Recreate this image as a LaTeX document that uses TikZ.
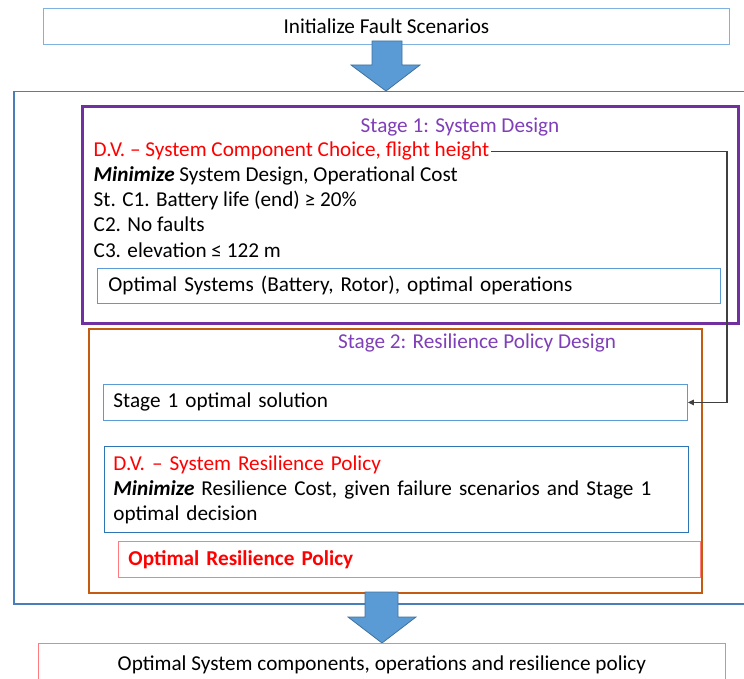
\documentclass[tikz,border=0pt]{standalone}
\usepackage{fontspec}
\setmainfont{Carlito}
\usetikzlibrary{arrows.meta}
\definecolor{paleblue}{HTML}{7FB2E0}
\definecolor{frameblue}{HTML}{4A7EBB}
\definecolor{boxblue}{HTML}{5B9BD5}
\definecolor{deepblue}{HTML}{2E75B6}
\definecolor{stagepurple}{HTML}{7030A0}
\definecolor{titlepurple}{HTML}{7F3FB8}
\definecolor{stageorange}{HTML}{C55A11}
\definecolor{softred}{HTML}{FF7C80}
\definecolor{arrowfill}{HTML}{5B9BD5}
\definecolor{arrowedge}{HTML}{41719C}
\definecolor{linkgray}{HTML}{404040}
\newcommand\bodysize{\fontsize{21.2}{25}\selectfont}
\begin{document}
\begin{tikzpicture}[x=1pt,y=-1pt,
  every node/.style={font=\bodysize},
  boxnode/.style={draw, line width=0.9pt, rectangle, anchor=north west, inner ysep=0pt},
  leftbox/.style={boxnode, align=left},
  framenode/.style={draw, rectangle, anchor=north west, inner sep=0pt},
  bodytxt/.style={anchor=base west, inner ysep=0pt, inner xsep=1.5pt},
  stagetitle/.style={anchor=base, inner sep=0pt, text=titlepurple},
  blockarrow/.style={fill=arrowfill, draw=arrowedge, line width=0.8pt, line join=miter},
  conn/.style={draw=linkgray, line width=1.1pt, -{Triangle[length=6pt,width=5.5pt]}}
]
\useasboundingbox (0,0) rectangle (744,679);

% outer frame around both stages (runs past the right edge)
\node[framenode, draw=frameblue, line width=1.5pt, minimum width=740, minimum height=512] (outer) at (13,91) {};

% start
\node[boxnode, draw=paleblue, minimum width=686, minimum height=36, anchor=north west] (init) at (43,8) {Initialize Fault Scenarios};

% arrow into the stages
\filldraw[blockarrow] (372,41) -- (402,41) -- (402,65) -- (420,65) -- (386,91) -- (351,65) -- (372,65) -- cycle;

% Stage 1
\node[framenode, draw=stagepurple, line width=3pt, minimum width=656, minimum height=216] (stage1) at (80.5,105.5) {};
\node[stagetitle] (s1title) at (460,133) {Stage 1: System Design};
\node[bodytxt, text=red] (dv1) at (92,157) {D.V. – System Component Choice, flight height};
\node[bodytxt] (obj1) at (92,182) {\textbf{\textit{Minimize}} System Design, Operational Cost};
\node[bodytxt] (c1) at (92,207) {St. C1. Battery life (end) ≥ 20\%};
\node[bodytxt] (c2) at (92,232) {C2. No faults};
\node[bodytxt] (c3) at (92,257) {C3. elevation ≤ 122 m};
\node[leftbox, draw=boxblue, inner xsep=11pt, text width=601pt, minimum height=35] (opt1) at (97,268) {Optimal Systems (Battery, Rotor), optimal operations};

% Stage 2
\node[stagetitle] (s2title) at (477,348) {Stage 2: Resilience Policy Design};
\node[leftbox, draw=boxblue, inner xsep=10pt, text width=564pt, minimum height=36] (sol1) at (103,384) {Stage 1 optimal solution};
\node[leftbox, draw=deepblue, inner xsep=9pt, text width=566pt, minimum height=86] (dv2) at (104,446) {\textcolor{red}{D.V. – System Resilience Policy}\\\textbf{\textit{Minimize}} Resilience Cost, given failure scenarios and Stage 1\\optimal decision};
\node[leftbox, draw=softred, inner xsep=10pt, text width=562pt, minimum height=36, text=red, font=\bodysize\bfseries] (orp) at (118,541) {Optimal Resilience Policy};
\node[framenode, draw=stageorange, line width=1.8pt, minimum width=613, minimum height=264] (stage2) at (88,328) {};

% hand-over of the stage 1 decision
\coordinate (turn) at (727,0);
\draw[conn] (dv1.east) -- (dv1.east -| turn) -- (turn |- sol1.east) -- (sol1.east);

% arrow out of the stages
\filldraw[blockarrow] (365,592) -- (398,592) -- (398,617) -- (416,617) -- (382,643) -- (348,617) -- (365,617) -- cycle;

% result
\node[boxnode, draw=softred, minimum width=687, minimum height=42] (result) at (38,643) {Optimal System components, operations and resilience policy};
\end{tikzpicture}
\end{document}
